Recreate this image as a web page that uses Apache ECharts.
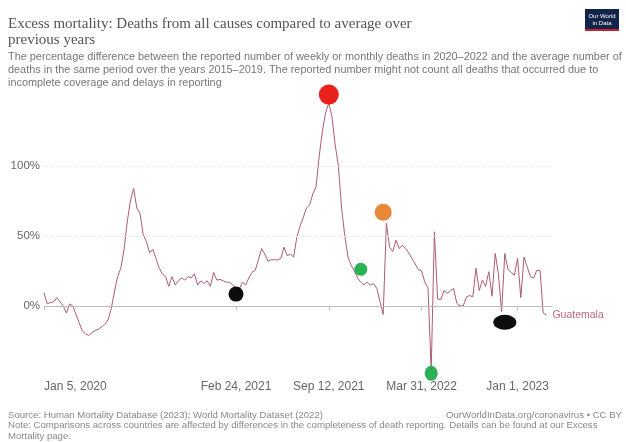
<!DOCTYPE html>
<html>
<head>
<meta charset="utf-8">
<script src="https://cdn.jsdelivr.net/npm/echarts@6/dist/echarts.min.js"></script>
<style>
  html, body { margin: 0; padding: 0; background: #fff; }
  #chart { width: 626px; height: 442px; }
</style>
</head>
<body>
<div id="chart"></div>
<script>
// weekly excess mortality (%), Guatemala, from week of Jan 5, 2020
const excess = [
  9.5, 1.5, 2.5, 3, 6, 3, 0, -5, 1.5, 0,
  -6, -12, -18, -20, -21, -19, -17.5, -16.5, -15, -13,
  -10, -2, 10, 21, 27, 40, 60, 75, 84, 70,
  66, 51, 46, 38, 40.5, 34, 27, 23, 21, 14,
  21, 15, 18, 20, 18.5, 21, 20, 23, 15, 18,
  16, 18, 14, 24, 18.5, 19, 18, 17, 17, 15,
  13, 12, 17, 15, 20, 24, 25.5, 33, 41, 37,
  32, 33, 33, 33, 34, 42, 36, 37, 35, 49,
  57, 63, 70, 72, 80, 85, 107, 125, 138, 145,
  135, 115, 100, 70, 50, 35, 29, 25, 20, 17,
  15, 17, 15, 16, 12.6, 3, -6, 59, 42, 39,
  47, 41, 43.5, 41, 38, 34, 30, 26, 25, 17,
  13, -46, 53, 5, 4.5, 11, 9, 11, 12.5, 2,
  0, 0, 6.5, 7.5, 6.5, 27, 11, 18.5, 14, 24.5,
  7, 37.5, 23, -4, 37.5, 26, 24, 22, 34, 6,
  35, 28, 21, 20, 25.5, 25.5, -5, -6.5
];
const weekCount = 160;   // axis runs a little past the last week
const startDate = new Date(2020, 0, 5);

// x tick labels: week index -> text
const tickIndex = [0, 60, 89, 118, 148];
const tickText = ['Jan 5, 2020', 'Feb 24, 2021', 'Sep 12, 2021', 'Mar 31, 2022', 'Jan 1, 2023'];

// hand drawn dots on top of the chart: [week index, value]
const dotPos = [[89, 151], [60, 8.5], [99, 26.2], [106, 67], [121, -48], [144, -11.6]];
const dotColor = ['#e8140f', '#000000', '#1fae4b', '#e8822e', '#1fae4b', '#000000'];
const dotSize = [[20, 20], [15, 15], [13, 13], [17, 17], [13, 15], [23, 15]];

const weeks = [];
for (let i = 0; i < weekCount; i++) {
  let d = new Date(startDate.getTime() + i * 7 * 86400000);
  weeks.push(d.toISOString().slice(0, 10));
}

const lineColor = '#ad5a72';
const greyText = '#666';

let myChart = echarts.init(document.getElementById('chart'));
myChart.setOption({
  animation: false,
  textStyle: { fontFamily: 'Liberation Sans' },
  grid: { left: 44, right: 73.2, top: 96, bottom: 66 },
  xAxis: {
    type: 'category',
    data: weeks,
    boundaryGap: false,
    axisLine: { show: false },
    axisTick: {
      show: true,
      length: 4,
      lineStyle: { color: '#bbb' },
      interval: (i) => tickIndex.indexOf(i) >= 0
    },
    axisLabel: {
      interval: (i) => tickIndex.indexOf(i) >= 0,
      formatter: (v, i) => tickText[tickIndex.indexOf(i)] || '',
      alignMinLabel: 'left',
      color: greyText,
      fontSize: 12,
      margin: 5
    },
    splitLine: { show: false }
  },
  yAxis: {
    type: 'value',
    min: -50,
    max: 150,
    interval: 50,
    axisLine: { show: false },
    axisTick: { show: false },
    splitLine: { show: false },
    axisLabel: {
      showMinLabel: false,
      showMaxLabel: false,
      formatter: '{value}%',
      color: greyText,
      fontSize: 11.5,
      margin: 4
    }
  },
  series: [
    {
      // grid lines
      type: 'line',
      data: [],
      z: 1,
      silent: true,
      markLine: {
        silent: true,
        symbol: 'none',
        label: { show: false },
        data: [
          { yAxis: 0, lineStyle: { color: '#bdbdbd', type: 'solid', width: 1 } },
          { yAxis: 50, lineStyle: { color: '#ececec', type: 'dashed', width: 1 } },
          { yAxis: 100, lineStyle: { color: '#ececec', type: 'dashed', width: 1 } }
        ]
      }
    },
    {
      name: 'Guatemala',
      type: 'line',
      data: excess,
      z: 3,
      symbol: 'none',
      lineStyle: { color: lineColor, width: 1 },
      endLabel: {
        show: true,
        formatter: 'Guatemala',
        color: '#c06a82',
        fontSize: 10.5,
        distance: 6
      }
    },
    {
      type: 'scatter',
      z: 5,
      clip: false,
      data: dotPos.map((p, i) => ({
        value: p,
        symbolSize: dotSize[i],
        itemStyle: { color: dotColor[i], opacity: 0.95 }
      }))
    }
  ],
  graphic: [
    {
      type: 'text', left: 8, top: 16,
      style: {
        text: 'Excess mortality: Deaths from all causes compared to average over\nprevious years',
        font: '15px "Liberation Serif"',
        fill: '#555',
        lineHeight: 16
      }
    },
    {
      type: 'text', left: 8, top: 50,
      style: {
        text: 'The percentage difference between the reported number of weekly or monthly deaths in 2020\u20132022 and the average number of\n' +
              'deaths in the same period over the years 2015\u20132019. The reported number might not count all deaths that occurred due to\n' +
              'incomplete coverage and delays in reporting',
        font: '10.9px "Liberation Sans"',
        fill: '#777',
        lineHeight: 13
      }
    },
    {
      type: 'group', left: 585, top: 9,
      children: [
        { type: 'rect', shape: { x: 0, y: 0, width: 34, height: 22 }, style: { fill: '#12244a' } },
        { type: 'rect', shape: { x: 0, y: 20, width: 34, height: 2 }, style: { fill: '#c8202c' } },
        { type: 'text', style: { x: 17, y: 4, text: 'Our World\nin Data', font: '6px "Liberation Sans"', fill: '#fff', align: 'center', lineHeight: 7 } }
      ]
    },
    {
      type: 'text', left: 8, top: 410,
      style: {
        text: 'Source: Human Mortality Database (2023); World Mortality Dataset (2022)\n' +
              'Note: Comparisons across countries are affected by differences in the completeness of death reporting. Details can be found at our Excess\n' +
              'Mortality page.',
        font: '9.6px "Liberation Sans"',
        fill: '#888',
        lineHeight: 10.5
      }
    },
    {
      type: 'text', right: 4, top: 410,
      style: {
        text: 'OurWorldInData.org/coronavirus \u2022 CC BY',
        font: '9.6px "Liberation Sans"',
        fill: '#888'
      }
    }
  ]
});
</script>
</body>
</html>
